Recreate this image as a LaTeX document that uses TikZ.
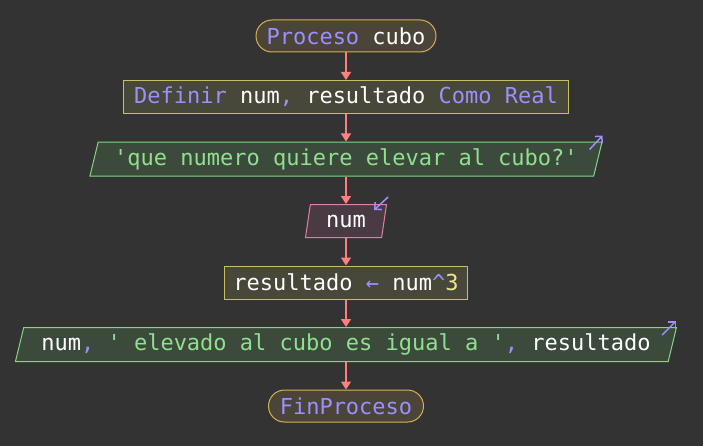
\documentclass[tikz,border=0pt]{standalone}
\usepackage{fontspec}
\setmonofont{DejaVu Sans Mono}
\usetikzlibrary{positioning,shapes.geometric,arrows.meta,calc}

\definecolor{bg}{HTML}{333333}
\definecolor{termfill}{HTML}{4A4538}
\definecolor{termline}{HTML}{D8B050}
\definecolor{procfill}{HTML}{47473A}
\definecolor{procline}{HTML}{C8C060}
\definecolor{iofill}{HTML}{3C4A3C}
\definecolor{ioline}{HTML}{80D880}
\definecolor{iotext}{HTML}{90E090}
\definecolor{readfill}{HTML}{4A3A44}
\definecolor{readline}{HTML}{E080A8}
\definecolor{kw}{HTML}{9D8FFF}
\definecolor{numc}{HTML}{F0E68C}
\definecolor{flowc}{HTML}{FF7F7F}

\begin{document}
\begin{tikzpicture}[x=1bp, y=-1bp, node distance=27.5bp,
    every node/.style={font=\ttfamily\fontsize{22bp}{26bp}\selectfont, text=white, line width=1bp, minimum height=33bp, inner sep=0pt},
    terminal/.style={draw=termline, fill=termfill, rounded corners=16bp, minimum height=32bp},
    procbox/.style={draw=procline, fill=procfill},
    iobox/.style={trapezium, trapezium left angle=69, trapezium right angle=111, trapezium stretches body, draw=ioline, fill=iofill, text=iotext, minimum height=34bp},
    readbox/.style={iobox, draw=readline, fill=readfill, text=white, minimum height=33bp},
    flow/.style={draw=flowc, line width=1.5bp, -{Triangle[length=8bp,width=10bp]}},
    icon/.style={draw=kw, line width=1.5bp, -{Straight Barb[length=5bp,width=10bp]}}]
    \fill[bg] (0,0) rectangle (703,446);
    \useasboundingbox (0,0) rectangle (703,446);

    \node[terminal, minimum width=180bp] (start) at (346,36) {\textcolor{kw}{Proceso} cubo};
    \node[procbox, minimum width=445bp, below=of start] (define) {\textcolor{kw}{Definir} num\textcolor{kw}{,} resultado \textcolor{kw}{Como Real}};
    \node[iobox, minimum width=512bp, below=of define] (ask) {'que numero quiere elevar al cubo?'};
    \node[readbox, minimum width=81bp, below=of ask] (read) {num};
    \node[procbox, minimum width=243bp, below=of read] (calc) {resultado \textcolor{kw}{\char"2190} num\textcolor{kw}{\^{}}\textcolor{numc}{3}};
    \node[iobox, minimum width=661bp, below=of calc] (show) {\textcolor{white}{num}\textcolor{kw}{,} ' elevado al cubo es igual a '\textcolor{kw}{,} \textcolor{white}{resultado}};
    \node[terminal, minimum width=155bp, below=of show] (stop) {\textcolor{kw}{FinProceso}};

    % connectors
    \draw[flow] (start.south) -- (define.north);
    \draw[flow] (define.south) -- (ask.north);
    \draw[flow] (ask.south) -- (read.north);
    \draw[flow] (read.south) -- (calc.north);
    \draw[flow] (calc.south) -- (show.north);
    \draw[flow] (show.south) -- (stop.north);

    % in/out marks
    \draw[icon] ($(ask.top right corner)+(-13,8)$) -- ($(ask.top right corner)+(0,-6)$);
    \draw[icon] ($(read.top right corner)+(1,-7)$) -- ($(read.top right corner)+(-13,6)$);
    \draw[icon] ($(show.top right corner)+(-15,8)$) -- ($(show.top right corner)+(-1,-6)$);
\end{tikzpicture}
\end{document}
